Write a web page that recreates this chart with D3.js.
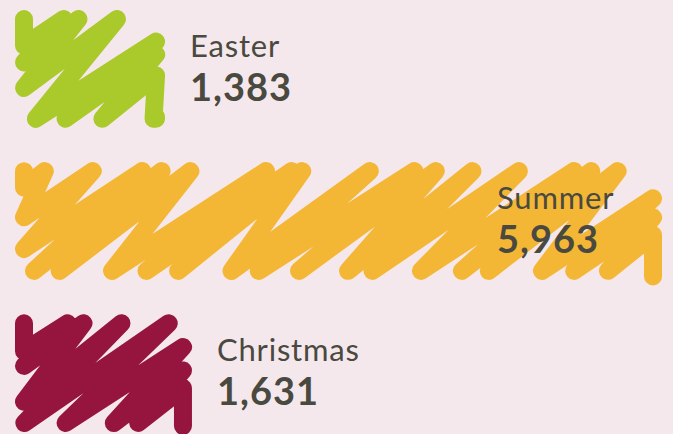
<!DOCTYPE html>
<html><head><meta charset="utf-8">
<script src="https://cdn.jsdelivr.net/npm/d3@7"></script>
<style>
html,body{margin:0;padding:0;background:#f5e8ec;}
svg{display:block;}
</style></head>
<body>
<svg id="chart" width="673" height="434"></svg>
<script>
const categories = ["Easter", "Summer", "Christmas"];
const values = [1383, 5963, 1631];
const colors = ["#aac92a", "#f4b735", "#95153f"];

const W = 673, H = 434;
const svg = d3.select("#chart");
svg.append("rect").attr("width", W).attr("height", H).attr("fill", "#f5e8ec");

const x = d3.scaleLinear().domain([0, 5963]).range([15, 662]);
const y = d3.scaleBand().domain(categories).range([10, 432]).paddingInner(0.226).paddingOuter(0);

const SW = 18;
function scribble(x0, x1, y0, y1, seed) {
  x0 += SW / 2; x1 -= SW / 2; y0 += SW / 2; y1 -= SW / 2;
  const h = y1 - y0;
  const D = 1.4 * h;       // horizontal run of an up-stroke
  const s = 39;            // advance per stroke
  const pts = [[x0, y0]];
  let i = 0;
  for (let b = x0 - D + s * 0.7; b < x1 + s * 0.3; b += s, i++) {
    const j1 = Math.sin(i * 2.3 + seed) * 8;
    const j2 = Math.cos(i * 1.7 + seed * 2) * 16;
    const bb = b + j1;
    const dd = D + j2;
    let sx = bb, sy = y1;
    if (sx < x0) { sy = y1 - (x0 - bb) / dd * h; sx = x0; }
    let ex = bb + dd, ey = y0;
    if (ex > x1) { ey = y1 - (x1 - bb) / dd * h; ex = x1; }
    if (sy < y0 + 4) continue;
    if (sx > x1) { sx = x1; }
    pts.push([sx, sy]);
    pts.push([ex, ey]);
  }
  pts.push([x1, y1]);
  return pts;
}

const line = d3.line().curve(d3.curveLinear);

const g = svg.selectAll("g.bar").data(categories).join("g").attr("class", "bar");

g.append("path")
  .attr("d", (d, i) => line(scribble(x(0), x(values[i]), y(d), y(d) + y.bandwidth(), i * 1.3 + 0.5)))
  .attr("fill", "none")
  .attr("stroke", (d, i) => colors[i])
  .attr("stroke-width", SW)
  .attr("stroke-linecap", "round")
  .attr("stroke-linejoin", "round");

const fmt = d3.format(",");
g.each(function (d, i) {
  const end = x(values[i]);
  const lx = Math.min(end + 25, W - 176);
  const cy = y(d) + y.bandwidth() / 2;
  const t = d3.select(this);
  t.append("text").attr("x", lx).attr("y", cy - 12)
    .attr("font-family", "Lato, 'Open Sans', sans-serif")
    .attr("font-size", 31).attr("letter-spacing", 0.8)
    .attr("fill", "#4a4940").text(d);
  t.append("text").attr("x", lx).attr("y", cy + 32)
    .attr("font-family", "Lato, 'Open Sans', sans-serif")
    .attr("font-weight", "bold").attr("letter-spacing", 1)
    .attr("font-size", 38).attr("fill", "#4a4940").text(fmt(values[i]));
});
</script>
</body></html>
